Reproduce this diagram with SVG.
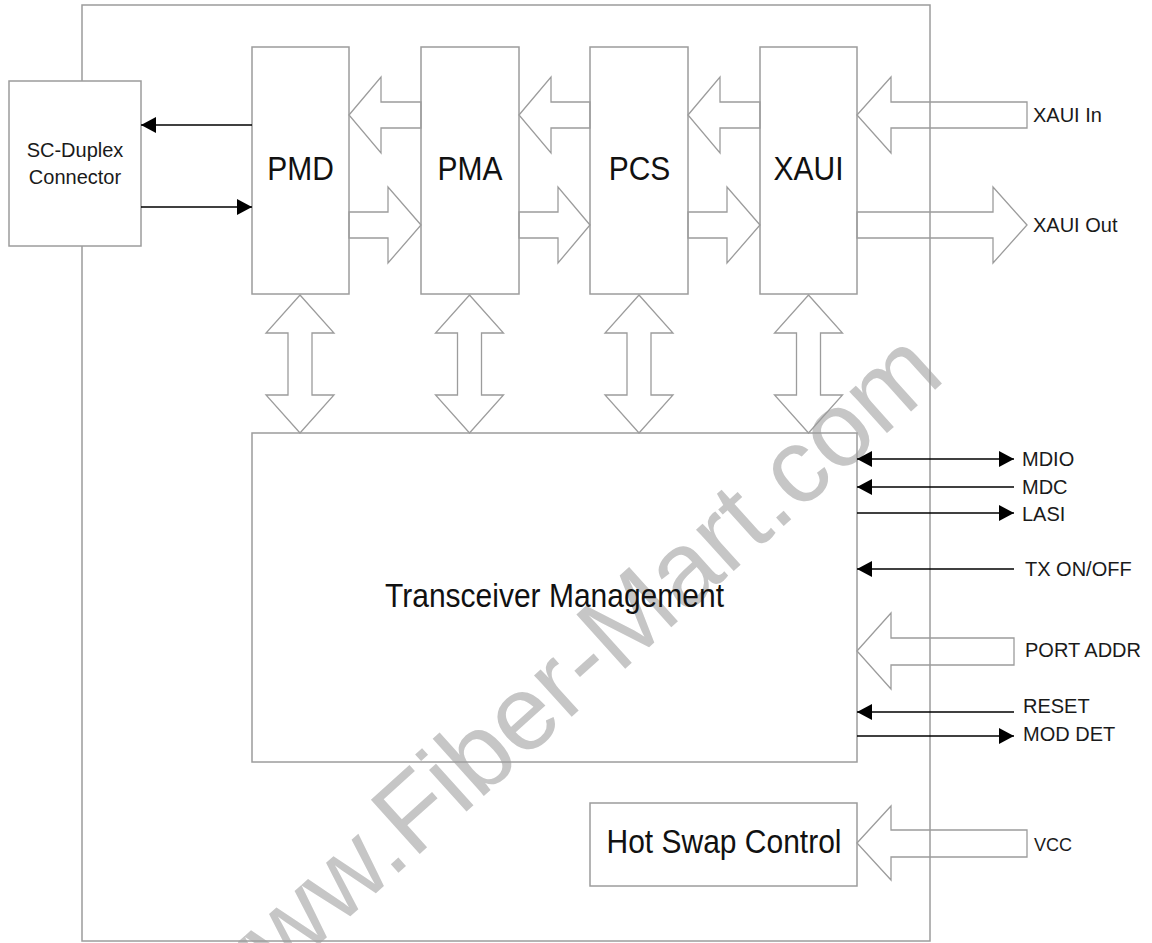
<svg xmlns="http://www.w3.org/2000/svg" width="1152" height="943" viewBox="0 0 1152 943">
  <defs>
    <style>
      .box { fill: none; stroke: #9c9c9c; stroke-width: 1.5; }
      .boxw { fill: #ffffff; stroke: #9c9c9c; stroke-width: 1.5; }
      .outer { fill: none; stroke: #9c9c9c; stroke-width: 1.5; }
      .blk { fill: none; stroke: #9c9c9c; stroke-width: 1.3; stroke-linejoin: miter; }
      .sig { fill: none; stroke: #000000; stroke-width: 1.6; }
      .big { font-family: "Liberation Sans", Arial, sans-serif; font-size: 30px; fill: #111111; text-anchor: middle; }
      .small { font-family: "Liberation Sans", Arial, sans-serif; font-size: 20px; fill: #1a1a1a; }
      .wm { font-family: "Liberation Sans", Arial, sans-serif; font-size: 106px; fill: #c6c6c6; text-anchor: middle; }
    </style>
    <marker id="ah" viewBox="0 0 15 16" refX="15" refY="8" markerWidth="15" markerHeight="16" markerUnits="userSpaceOnUse" orient="auto">
      <path d="M0,0 L15,8 L0,16 Z" fill="#000000"/>
    </marker>
    <marker id="ahs" viewBox="0 0 15 16" refX="0" refY="8" markerWidth="15" markerHeight="16" markerUnits="userSpaceOnUse" orient="auto">
      <path d="M15,0 L0,8 L15,16 Z" fill="#000000"/>
    </marker>
  </defs>

  <rect x="0" y="0" width="1152" height="943" fill="#ffffff"/>

  <g id="watermark">
    <text class="wm" transform="translate(586,704) rotate(-42)">www.Fiber-Mart.com</text>
  </g>

  <!-- outer module boundary -->
  <rect id="module" class="outer" x="82" y="5" width="848" height="936"/>

  <g id="sc-duplex">
    <rect class="boxw" x="9" y="81" width="132" height="165"/>
    <text class="small" x="75" y="157" text-anchor="middle">SC-Duplex</text>
    <text class="small" x="75" y="184" text-anchor="middle">Connector</text>
  </g>

  <g id="pmd">
    <rect class="box" x="252" y="47" width="97" height="247"/>
    <text class="big" transform="translate(300.5,180) scale(1,1.12)">PMD</text>
  </g>
  <g id="pma">
    <rect class="box" x="421" y="47" width="98" height="247"/>
    <text class="big" transform="translate(470,180) scale(1,1.12)">PMA</text>
  </g>
  <g id="pcs">
    <rect class="box" x="590" y="47" width="98" height="247"/>
    <text class="big" transform="translate(639.5,180) scale(1,1.12)">PCS</text>
  </g>
  <g id="xaui">
    <rect class="box" x="760" y="47" width="97" height="247"/>
    <text class="big" transform="translate(808.5,180) scale(1,1.12)">XAUI</text>
  </g>

  <g id="transceiver-management">
    <rect class="box" x="252" y="433" width="605" height="329"/>
    <text class="big" transform="translate(554.5,607) scale(1,1.12)">Transceiver Management</text>
  </g>

  <g id="hot-swap-control">
    <rect class="box" x="590" y="803" width="267" height="83"/>
    <text class="big" transform="translate(724,853) scale(1,1.12)">Hot Swap Control</text>
  </g>

  <g id="connectors">
    <!-- receive path block arrows (pointing left) -->
    <polygon class="blk" points="349,115 381,77 381,102 421,102 421,128 381,128 381,153"/>
    <polygon class="blk" points="519,115 551,77 551,102 590,102 590,128 551,128 551,153"/>
    <polygon class="blk" points="688,115 720,77 720,102 760,102 760,128 720,128 720,153"/>
    <polygon class="blk" points="857,115 891,77 891,102 1027,102 1027,128 891,128 891,153"/>
    <!-- transmit path block arrows (pointing right) -->
    <polygon class="blk" points="421,225 388,187 388,212 349,212 349,238 388,238 388,263"/>
    <polygon class="blk" points="590,225 558,187 558,212 519,212 519,238 558,238 558,263"/>
    <polygon class="blk" points="760,225 727,187 727,212 688,212 688,238 727,238 727,263"/>
    <polygon class="blk" points="1027,225 993,187 993,212 857,212 857,238 993,238 993,263"/>

    <!-- vertical double arrows to management -->
    <polygon class="blk" points="300,295 334,333 312,333 312,395 334,395 300,433 266,395 288,395 288,333 266,333"/>
    <polygon class="blk" points="469.5,295 503.5,333 481.5,333 481.5,395 503.5,395 469.5,433 435.5,395 457.5,395 457.5,333 435.5,333"/>
    <polygon class="blk" points="639,295 673,333 651,333 651,395 673,395 639,433 605,395 627,395 627,333 605,333"/>
    <polygon class="blk" points="808.5,295 842.5,333 820.5,333 820.5,395 842.5,395 808.5,433 774.5,395 796.5,395 796.5,333 774.5,333"/>

    <!-- PORT ADDR and VCC block arrows -->
    <polygon class="blk" points="857,651 891,613 891,638 1014,638 1014,665 891,665 891,689"/>
    <polygon class="blk" points="857,843 891,806 891,830 1027,830 1027,857 891,857 891,880"/>

    <!-- SC-Duplex optical lines -->
    <line class="sig" x1="252" y1="125" x2="141" y2="125" marker-end="url(#ah)"/>
    <line class="sig" x1="141" y1="207" x2="252" y2="207" marker-end="url(#ah)"/>

    <!-- management signals -->
    <line class="sig" x1="857" y1="459" x2="1014" y2="459" marker-start="url(#ahs)" marker-end="url(#ah)"/>
    <line class="sig" x1="1014" y1="487" x2="857" y2="487" marker-end="url(#ah)"/>
    <line class="sig" x1="857" y1="513" x2="1014" y2="513" marker-end="url(#ah)"/>
    <line class="sig" x1="1014" y1="569" x2="857" y2="569" marker-end="url(#ah)"/>
    <line class="sig" x1="1014" y1="712" x2="857" y2="712" marker-end="url(#ah)"/>
    <line class="sig" x1="857" y1="736" x2="1014" y2="736" marker-end="url(#ah)"/>
  </g>

  <g id="labels">
    <text class="small" x="1033" y="122">XAUI In</text>
    <text class="small" x="1033" y="232">XAUI Out</text>
    <text class="small" x="1022" y="466">MDIO</text>
    <text class="small" x="1022" y="494">MDC</text>
    <text class="small" x="1022" y="521">LASI</text>
    <text class="small" x="1025" y="576">TX ON/OFF</text>
    <text class="small" x="1025" y="657">PORT ADDR</text>
    <text class="small" x="1023" y="713">RESET</text>
    <text class="small" x="1023" y="741">MOD DET</text>
    <text class="small" x="1034" y="851" style="font-size:18px">VCC</text>
  </g>
</svg>
